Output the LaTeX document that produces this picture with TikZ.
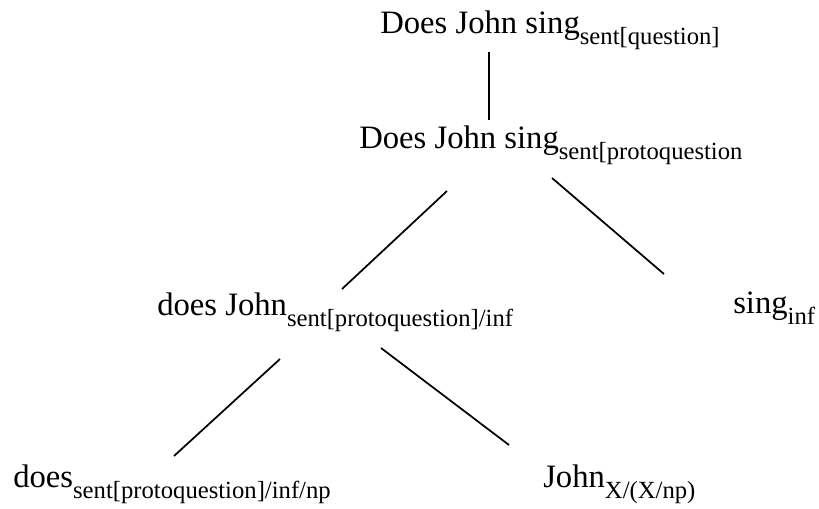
\documentclass[tikz,border=0pt]{standalone}
\usepackage{fontspec}
\setmainfont{Liberation Serif}
\usetikzlibrary{positioning}
\newcommand{\catsub}[1]{\raisebox{-8.5pt}{\fontsize{18.5}{20}\selectfont #1}}

\begin{document}
\begin{tikzpicture}[x=0.75pt,y=-0.75pt,
    word/.style={inner sep=0pt,anchor=base west,font=\fontsize{24.5}{29}\selectfont},
    branch/.style={line width=1.3pt}]
    \useasboundingbox (0,0) rectangle (819,508);

    \node[word] (question) at (380,33) {Does John sing\catsub{sent[question]}};
    \node[word] (proto) at (359,148) {Does John sing\catsub{sent[protoquestion}};
    \node[word] (doesjohn) at (157,315) {does John\catsub{sent[protoquestion]/inf}};
    \node[word] (sing) at (733,313) {sing\catsub{inf}};
    \node[word] (does) at (13,487) {does\catsub{sent[protoquestion]/inf/np}};
    \node[word] (john) at (543,487) {John\catsub{X/(X/np)}};

    \draw[branch] ([shift={(109,19)}]question.base west) -- ([shift={(130,-28)}]proto.base west);
    \draw[branch] ([shift={(88,43)}]proto.base west) -- ([shift={(185,-26)}]doesjohn.base west);
    \draw[branch] ([shift={(193,30)}]proto.base west) -- ([shift={(-69,-39)}]sing.base west);
    \draw[branch] ([shift={(123,44)}]doesjohn.base west) -- ([shift={(161,-31)}]does.base west);
    \draw[branch] ([shift={(224,33)}]doesjohn.base west) -- ([shift={(-34,-42)}]john.base west);
\end{tikzpicture}
\end{document}
